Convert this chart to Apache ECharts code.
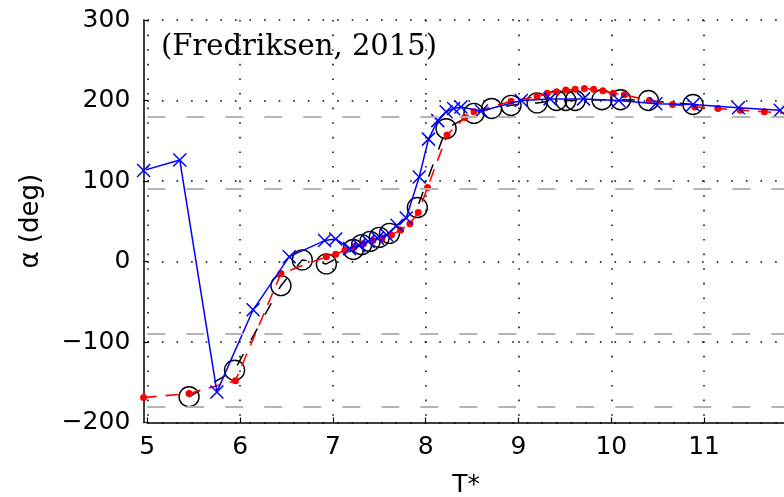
<!DOCTYPE html>
<html>
<head>
<meta charset="utf-8">
<script src="https://cdn.jsdelivr.net/npm/echarts@6/dist/echarts.min.js"></script>
<style>
  html, body { margin: 0; padding: 0; background: #ffffff; }
  #chart { width: 784px; height: 497px; }
</style>
</head>
<body>
<div id="chart"></div>
<script>
// ---- data ----
const xRange = [5, 12];
const yRange = [-200, 300];
const xInterval = 1;
const yInterval = 100;
const refLines = [-180, -90, 90, 180];
const annotation = '(Fredriksen, 2015)';
const xName = 'T*';
const yName = 'α (deg)';

// red dots, dashed red line
const redT = [4.96, 5.45, 5.95, 6.44, 6.93, 7.03, 7.13, 7.23, 7.33, 7.43, 7.53, 7.63, 7.73, 7.83, 7.92, 8.02, 8.23, 8.42, 8.52, 8.92, 9.20, 9.31, 9.41, 9.51, 9.61, 9.71, 9.81, 9.91, 10.02, 10.14, 10.41, 10.66, 10.90, 11.15, 11.39, 11.65, 11.90];
const redA = [-169, -164, -148, -15, 6, 9, 14, 18, 22, 26, 29, 33, 39, 47, 61, 92, 157, 179, 186, 199, 205, 209, 211, 213, 214, 215, 214, 212, 209, 207, 200, 195, 192, 190, 188, 186, 184];

// black open circles, dashed black line
const blackT = [5.45, 5.94, 6.44, 6.67, 6.93, 7.22, 7.31, 7.40, 7.50, 7.61, 7.91, 8.22, 8.52, 8.71, 8.92, 9.20, 9.41, 9.51, 9.61, 9.90, 10.10, 10.40, 10.88];
const blackA = [-168, -135, -30, 2, -3, 15, 21, 25, 30, 35, 67, 165, 184, 190, 194, 197, 200, 200, 200, 201, 201, 200, 195];

// blue crosses, solid blue line
const blueT = [4.96, 5.35, 5.75, 6.14, 6.53, 6.91, 7.03, 7.18, 7.28, 7.38, 7.48, 7.58, 7.69, 7.79, 7.93, 8.03, 8.13, 8.22, 8.30, 8.38, 8.60, 9.03, 9.34, 9.70, 10.08, 10.48, 10.88, 11.37, 11.82];
const blueA = [113, 126, -162, -60, 6, 26, 28, 16, 20, 25, 29, 33, 45, 54, 105, 152, 175, 186, 190, 192, 187, 200, 202, 202, 200, 196, 195, 191, 188];

const zip = (xs, ys) => xs.map((x, i) => [x, ys[i]]);
const minus = v => String(v).replace('-', '\u2212');

const chart = echarts.init(document.getElementById('chart'), null, { renderer: 'canvas' });

const tickFont = { fontFamily: 'DejaVu Sans', fontSize: 25, color: '#000' };
const dotted = { color: '#000', width: 1.5, type: [1.6, 13] };

chart.setOption({
  animation: false,
  backgroundColor: '#ffffff',
  grid: { left: 147.3, top: 20, width: 649.6, height: 402.5, containLabel: false, outerBoundsMode: 'none' },
  xAxis: {
    type: 'value',
    min: xRange[0], max: xRange[1], interval: xInterval,
    name: xName, nameLocation: 'middle', nameGap: 50,
    nameTextStyle: { fontFamily: 'DejaVu Sans', fontSize: 25, color: '#000', padding: [0, 12, 0, 0] },
    axisLine: { show: true, onZero: false, lineStyle: { color: '#000', width: 1.5 } },
    axisTick: { show: true, inside: true, length: 5, lineStyle: { color: '#000', width: 1.2 } },
    axisLabel: Object.assign({ margin: 12, formatter: minus, showMaxLabel: false }, tickFont),
    splitLine: { show: true, lineStyle: dotted }
  },
  yAxis: {
    type: 'value',
    min: yRange[0], max: yRange[1], interval: yInterval,
    offset: 4,
    name: yName, nameLocation: 'middle', nameGap: 99,
    nameTextStyle: { fontFamily: 'DejaVu Sans', fontSize: 26, color: '#000' },
    axisLine: { show: true, onZero: false, lineStyle: { color: '#000', width: 1.5 } },
    axisTick: { show: true, inside: true, length: 5, lineStyle: { color: '#000', width: 1.2 } },
    axisLabel: Object.assign({ margin: 13, formatter: minus }, tickFont),
    splitLine: { show: true, lineStyle: dotted }
  },
  graphic: [{
    type: 'text',
    x: 161, y: 47,
    z: 100,
    style: {
      text: annotation,
      font: '29px "DejaVu Serif"',
      fill: '#000',
      verticalAlign: 'middle',
      align: 'left'
    }
  }],
  series: [
    {
      type: 'line',
      name: 'black',
      data: zip(blackT, blackA),
      z: 2,
      clip: false,
      symbol: 'circle',
      symbolSize: 20,
      showAllSymbol: true,
      itemStyle: { color: 'rgba(0,0,0,0)', borderColor: '#000', borderWidth: 1.4 },
      lineStyle: { color: '#000', width: 1.5, type: [13, 16] },
      markLine: {
        silent: true,
        symbol: 'none',
        label: { show: false },
        lineStyle: { color: '#b4b4b4', width: 2, type: [18, 21] },
        data: refLines.map(v => ({ yAxis: v }))
      }
    },
    {
      type: 'line',
      name: 'red',
      data: zip(redT, redA),
      z: 3,
      clip: false,
      symbol: 'circle',
      symbolSize: 7,
      showAllSymbol: true,
      itemStyle: { color: '#ff0000' },
      lineStyle: { color: '#ff0000', width: 1.6, type: [13, 9] }
    },
    {
      type: 'line',
      name: 'blue',
      data: zip(blueT, blueA),
      z: 4,
      clip: false,
      symbol: 'path://M0,0L10,10M10,0L0,10',
      symbolSize: 13,
      showAllSymbol: true,
      itemStyle: { color: '#0000ff', borderColor: '#0000ff', borderWidth: 1.5 },
      lineStyle: { color: '#0000ff', width: 1.5 }
    }
  ]
});
</script>
</body>
</html>
